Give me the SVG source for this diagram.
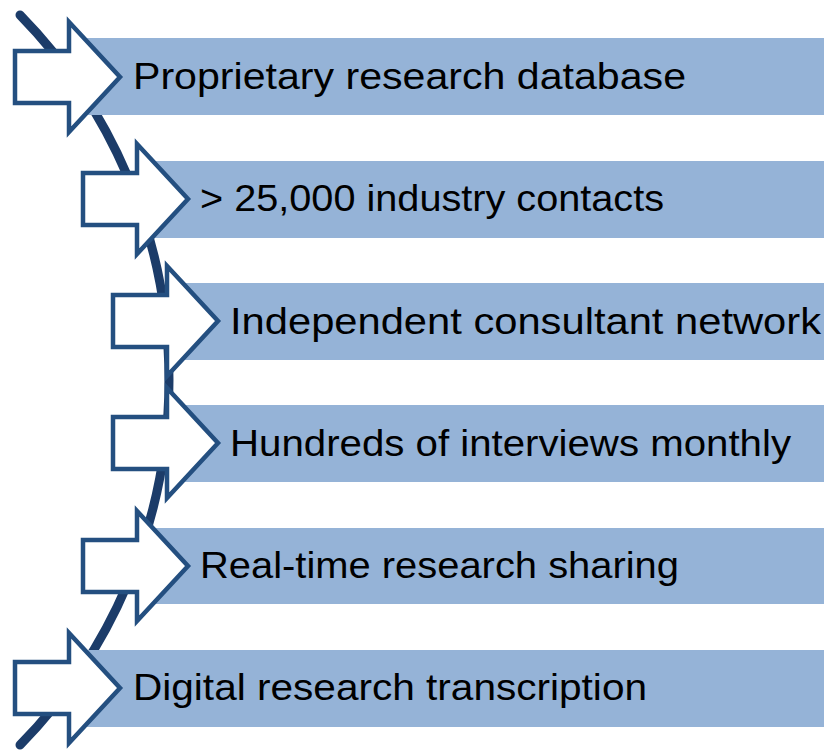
<svg xmlns="http://www.w3.org/2000/svg" width="824" height="751" viewBox="0 0 824 751">
<style>
.bar{fill:#95b3d7}
.arrow{fill:#ffffff;stroke:#244f80;stroke-width:4.5;stroke-linejoin:miter}
.label{font-family:"Liberation Sans",Arial,sans-serif;font-size:36px;fill:#000000}
.curve{fill:none;stroke:#1c3c69;stroke-width:9;stroke-linecap:round}
</style>
<defs>
<path id="arr" d="M0,-26 H54 V-55 L105,0 L54,55 V26 H0 Z"/>
</defs>
<g id="connectors">
<path class="curve" d="M20,15 A521.6,521.6 0 0 1 20,745"/>
</g>
<g id="node1">
<rect class="bar" x="70" y="38" width="754" height="77"/>
<use href="#arr" class="arrow" transform="translate(15,77)"/>
<text class="label" x="133" y="89" textLength="553" lengthAdjust="spacingAndGlyphs">Proprietary research database</text>
</g>
<g id="node2">
<rect class="bar" x="137" y="161" width="687" height="77"/>
<use href="#arr" class="arrow" transform="translate(83,199)"/>
<text class="label" x="200" y="211" textLength="464" lengthAdjust="spacingAndGlyphs">&gt; 25,000 industry contacts</text>
</g>
<g id="node3">
<rect class="bar" x="165" y="283" width="659" height="77"/>
<use href="#arr" class="arrow" transform="translate(113,321)"/>
<text class="label" x="230" y="334" textLength="591" lengthAdjust="spacingAndGlyphs">Independent consultant network</text>
</g>
<g id="node4">
<rect class="bar" x="165" y="405" width="659" height="77"/>
<use href="#arr" class="arrow" transform="translate(113,443)"/>
<text class="label" x="230" y="456" textLength="561" lengthAdjust="spacingAndGlyphs">Hundreds of interviews monthly</text>
</g>
<g id="node5">
<rect class="bar" x="137" y="528" width="687" height="76"/>
<use href="#arr" class="arrow" transform="translate(83,566)"/>
<text class="label" x="200" y="578" textLength="479" lengthAdjust="spacingAndGlyphs">Real-time research sharing</text>
</g>
<g id="node6">
<rect class="bar" x="70" y="650" width="754" height="77"/>
<use href="#arr" class="arrow" transform="translate(15,688)"/>
<text class="label" x="133" y="700" textLength="514" lengthAdjust="spacingAndGlyphs">Digital research transcription</text>
</g>
</svg>
